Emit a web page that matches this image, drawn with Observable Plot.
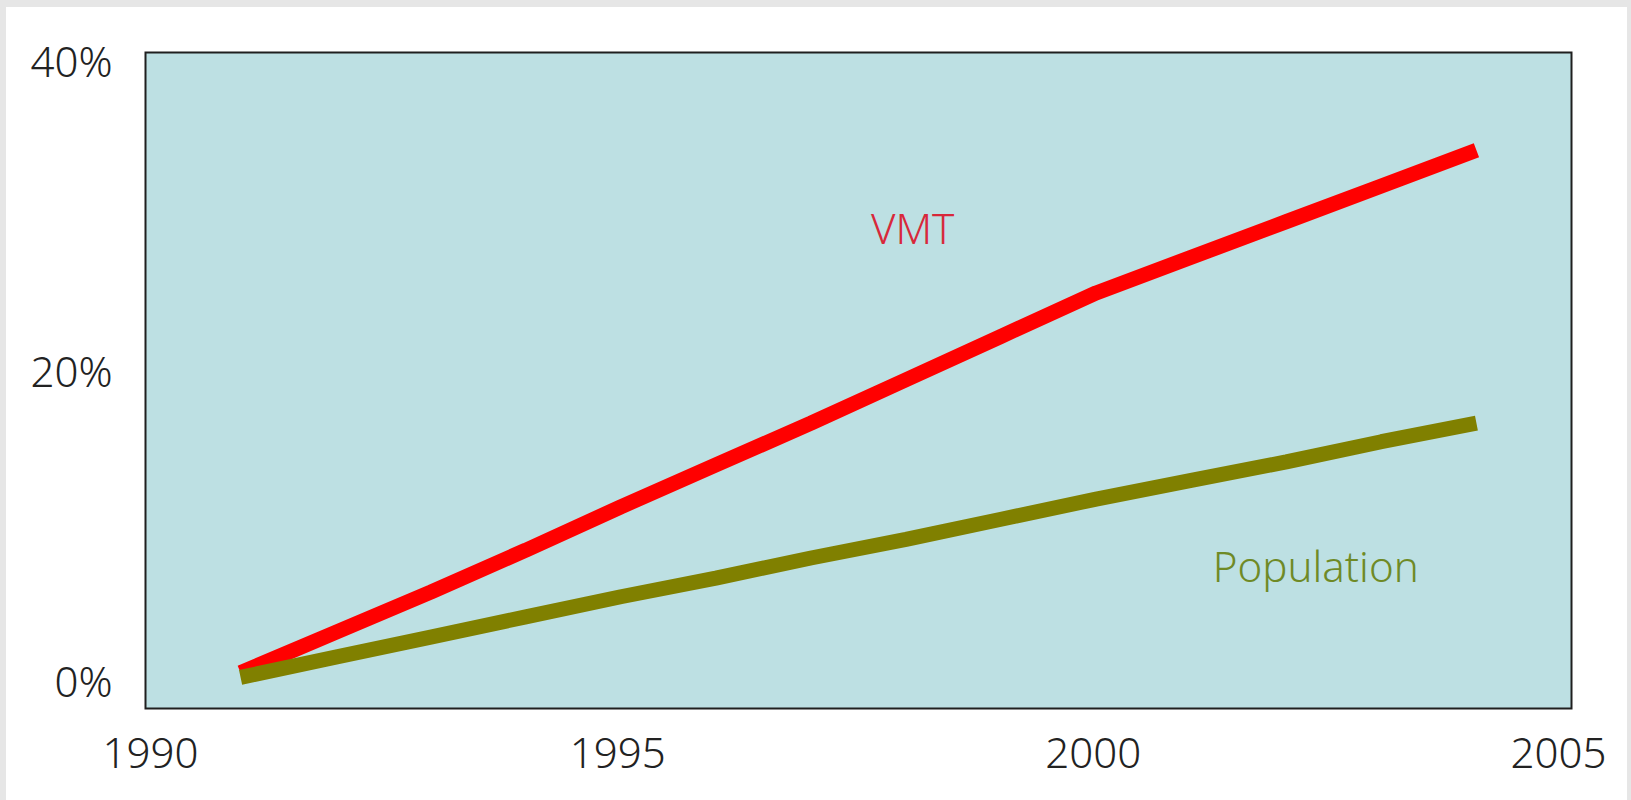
<!DOCTYPE html>
<html><head><meta charset="utf-8">
<script src="https://cdn.jsdelivr.net/npm/d3@7"></script>
<script src="https://cdn.jsdelivr.net/npm/@observablehq/plot@0.6"></script>
<style>
html,body{margin:0;padding:0;background:#e6e6e6;width:1631px;height:800px;overflow:hidden;}
#wrap{position:absolute;left:6px;top:7px;width:1621px;height:793px;background:#fff;}
#chart{position:absolute;left:0;top:0;}
</style></head><body>
<div id="wrap"></div>
<div id="chart"></div>
<script>
// Data (percent change)
const years = [1991,1992,1993,1994,1995,1996,1997,1998,1999,2000,2001,2002,2003,2004];
const vmt = [0.7,3.3,5.9,8.6,11.4,14.1,16.8,19.6,22.4,25.2,27.5,29.8,32.1,34.4];
const population = [0.4,1.7,3.0,4.3,5.6,6.8,8.1,9.3,10.6,11.9,13.1,14.3,15.6,16.8];
const yTicks = [0,20,40];
const xTicks = [1990,1995,2000,2005];
const seriesNames = ["VMT","Population"];
const seriesColors = ["#ff0000","#808000"];
const labelColors = ["#d8283a","#6f8a26"];
const labelYears = [1998.07,2002.31];
const labelValues = [29.2,7.45];

const rows = [];
years.forEach((yr,i)=>rows.push({year:yr,value:vmt[i],series:seriesNames[0]}));
years.forEach((yr,i)=>rows.push({year:yr,value:population[i],series:seriesNames[1]}));
const labels = seriesNames.map((s,i)=>({name:s,year:labelYears[i],value:labelValues[i],color:labelColors[i]}));

const font = "'Noto Sans', sans-serif";
const axisStyle = {tickSize:0, fontSize:42, fontWeight:300};

const chart = Plot.plot({
  width:1631, height:800,
  marginLeft:145, marginTop:52, marginRight:60, marginBottom:92,
  x:{domain:[1990,2005], label:null},
  y:{domain:[-1.61,40.71], label:null},
  style:{background:"transparent", fontFamily:font, color:"#222"},
  marks:[
    Plot.frame({fill:"#bde0e3", stroke:"#1f1f1f", strokeWidth:2}),
    Plot.line(rows.filter(d=>d.series===seriesNames[0]),{x:"year",y:"value",stroke:seriesColors[0],strokeWidth:15,strokeLinecap:"butt",strokeLinejoin:"miter"}),
    Plot.line(rows.filter(d=>d.series===seriesNames[1]),{x:"year",y:"value",stroke:seriesColors[1],strokeWidth:15,strokeLinecap:"butt",strokeLinejoin:"miter"}),
    Plot.text(labels,{x:"year",y:"value",text:"name",fill:"color",fontSize:42,fontWeight:300}),
    Plot.axisY(yTicks,{...axisStyle, tickPadding:33, tickFormat:d=>d+"%", label:null}),
    Plot.axisX([xTicks[0]],{...axisStyle, tickPadding:30, dx:5, tickFormat:d=>String(d), label:null}),
    Plot.axisX([xTicks[1],xTicks[2]],{...axisStyle, tickPadding:30, dx:-3, tickFormat:d=>String(d), label:null}),
    Plot.axisX([xTicks[3]],{...axisStyle, tickPadding:30, dx:-13, tickFormat:d=>String(d), label:null})
  ]
});
document.getElementById("chart").appendChild(chart);
</script>
</body></html>
